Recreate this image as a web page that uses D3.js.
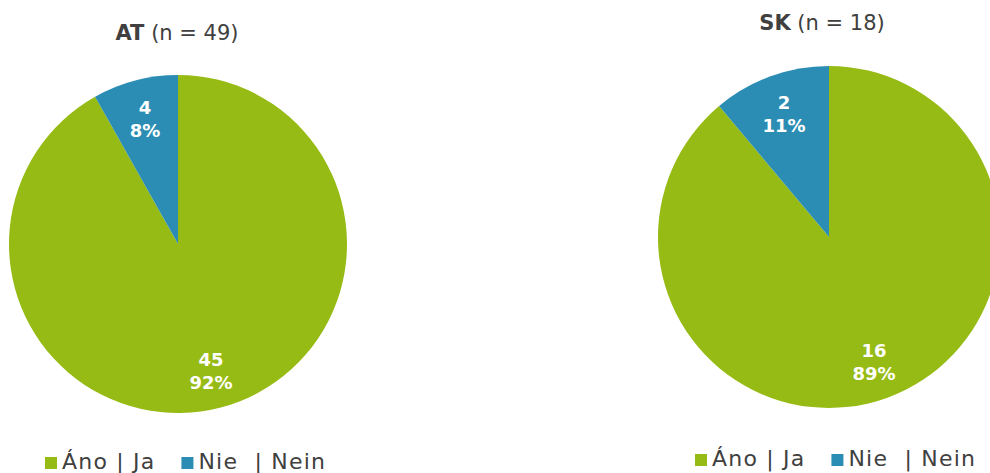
<!DOCTYPE html>
<html>
<head>
<meta charset="utf-8">
<script src="https://cdn.jsdelivr.net/npm/d3@7"></script>
<style>
  body { margin: 0; background: #fff; }
  svg { font-family: "DejaVu Sans", Verdana, sans-serif; }
</style>
</head>
<body>
<svg id="chart" width="990" height="473"></svg>
<script>
// data
const categories = ['Áno | Ja', 'Nie  | Nein'];
const countries = ['AT', 'SK'];
const valuesAT = [45, 4];
const valuesSK = [16, 2];
const colors = ['#97bb15', '#2b8db3'];

const svg = d3.select('#chart');

const panels = [
  { name: countries[0], values: valuesAT, cx: 178, cy: 244, r: 169, titleX: 177, titleY: 40, legendX: 45, legendY: 469 },
  { name: countries[1], values: valuesSK, cx: 829, cy: 237, r: 171, titleX: 822, titleY: 30, legendX: 695, legendY: 466 }
];

const pie = d3.pie().sort(null).value(d => d);

panels.forEach(p => {
  const total = d3.sum(p.values);
  const g = svg.append('g').attr('transform', `translate(${p.cx},${p.cy})`);
  const arc = d3.arc().innerRadius(0).outerRadius(p.r);
  const labelArc = d3.arc().innerRadius(p.r * 0.77).outerRadius(p.r * 0.77);

  const arcs = pie(p.values);
  g.selectAll('path').data(arcs)
    .join('path')
    .attr('d', arc)
    .attr('fill', (d, i) => colors[i]);

  const lbl = g.selectAll('.lbl').data(arcs)
    .join('text')
    .attr('class', 'lbl')
    .attr('transform', d => `translate(${labelArc.centroid(d)})`)
    .attr('text-anchor', 'middle')
    .attr('fill', '#fff')
    .style('font-size', '18px')
    .style('font-weight', 'bold');
  lbl.append('tspan').attr('x', 0).attr('y', -4).text(d => d.data);
  lbl.append('tspan').attr('x', 0).attr('y', 19)
    .text(d => Math.round(d.data / total * 100) + '%');

  // title
  const t = svg.append('text')
    .attr('x', p.titleX)
    .attr('y', p.titleY)
    .attr('text-anchor', 'middle')
    .attr('fill', '#404040')
    .style('font-size', '21px');
  t.append('tspan').style('font-weight', 'bold').text(p.name);
  t.append('tspan').text(` (n = ${total})`);

  // legend
  const leg = svg.append('g').attr('transform', `translate(${p.legendX},${p.legendY})`);
  let x = 0;
  categories.forEach((c, i) => {
    leg.append('rect').attr('x', x).attr('y', -12).attr('width', 12).attr('height', 12).attr('fill', colors[i]);
    const tx = leg.append('text')
      .attr('x', x + 17).attr('y', 0)
      .attr('fill', '#404040')
      .style('font-size', '22px')
      .style('letter-spacing', '1.2px')
      .style('white-space', 'pre')
      .attr('xml:space', 'preserve')
      .text(c);
    x += tx.node().getComputedTextLength() + 17 + 26;
  });
});
</script>
</body>
</html>
